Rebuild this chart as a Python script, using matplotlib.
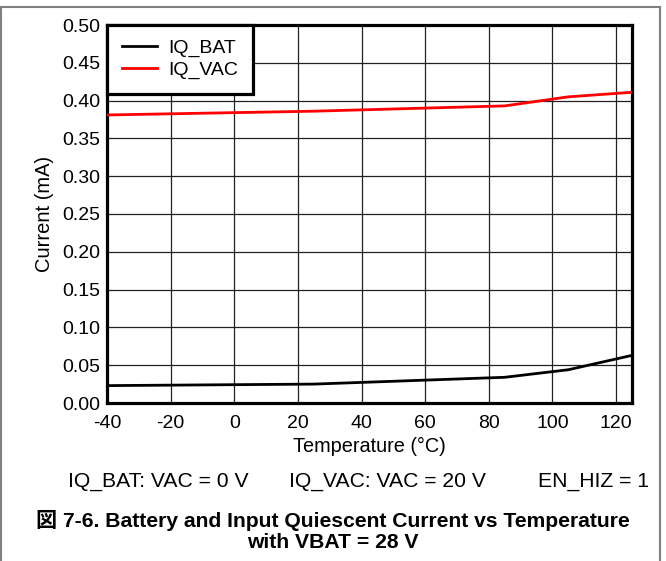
import matplotlib
matplotlib.use("Agg")
import matplotlib.pyplot as plt
from matplotlib.patches import Rectangle

plt.rcParams["font.family"] = ["Liberation Sans", "Noto Sans CJK JP"]
plt.rcParams["axes.unicode_minus"] = False

# values
temp = [-40, 25, 85, 105, 125]
iq_bat = [0.023, 0.025, 0.034, 0.044, 0.063]
iq_vac = [0.381, 0.386, 0.393, 0.405, 0.411]
x_ticks = [-40, -20, 0, 20, 40, 60, 80, 100, 120]
y_ticks = [0.00, 0.05, 0.10, 0.15, 0.20, 0.25, 0.30, 0.35, 0.40, 0.45, 0.50]

W, H = 666, 561
fig = plt.figure(figsize=(W / 100, H / 100), dpi=100)
ax = fig.add_axes([107 / W, 1 - 403 / H, (632 - 107) / W, (403 - 25) / H])

ax.plot(temp, iq_bat, color="black", lw=2.0, label="IQ_BAT", zorder=3)
ax.plot(temp, iq_vac, color="#ff0000", lw=2.0, label="IQ_VAC", zorder=3)

ax.set_xlim(-40, 125)
ax.set_ylim(0, 0.5)
ax.set_xticks(x_ticks)
ax.set_yticks(y_ticks)
ax.set_yticklabels([f"{v:.2f}" for v in y_ticks])
ax.grid(True, color="#222222", lw=0.9)
ax.tick_params(length=0, labelsize=14)
ax.tick_params(axis="x", pad=9)
ax.tick_params(axis="y", pad=5)
for s in ax.spines.values():
    s.set_linewidth(2.3)
ax.set_xlabel("Temperature (°C)", fontsize=14.3, labelpad=3)
ax.set_ylabel("Current (mA)", fontsize=14.5, labelpad=6)

leg = ax.legend(loc="upper left", borderaxespad=0, fancybox=False,
                framealpha=1, edgecolor="black", fontsize=14,
                handlelength=1.8, handletextpad=0.6, borderpad=0.75,
                labelspacing=0.2)
leg.get_frame().set_linewidth(2.3)

fig.text(68 / W, 1 - 481.5 / H, "IQ_BAT: VAC = 0 V", fontsize=15.2,
         va="center", ha="left")
fig.text(289 / W, 1 - 481.5 / H, "IQ_VAC: VAC = 20 V", fontsize=15.2,
         va="center", ha="left")
fig.text(649 / W, 1 - 481.5 / H, "EN_HIZ = 1", fontsize=15.2,
         va="center", ha="right")
fig.text(333 / W, 1 - 520 / H,
         "図 7-6. Battery and Input Quiescent Current vs Temperature",
         fontsize=15.2, fontweight="bold", va="center", ha="center")
fig.text(333 / W, 1 - 543 / H, "with VBAT = 28 V", fontsize=15.2,
         fontweight="bold", va="center", ha="center")

# grey outer frame
fig.patches.append(Rectangle((1 / W, -0.05), (660 - 1) / W, 1.05 - 7 / H,
                             transform=fig.transFigure, fill=False,
                             edgecolor="#808080", lw=1.5))

fig.savefig("out.png", dpi=100)
